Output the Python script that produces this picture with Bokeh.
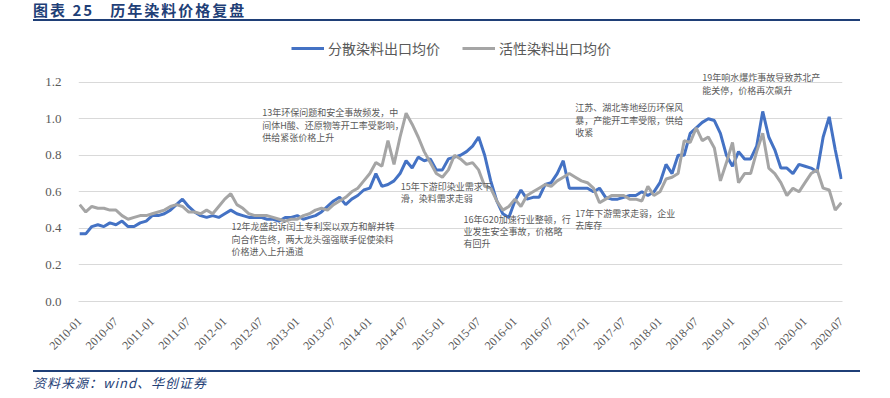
import math
from bokeh.plotting import figure
from bokeh.models import (Range1d, FixedTicker, Legend, LegendItem, Label, Div, ColumnDataSource)
from bokeh.layouts import column
from bokeh.embed import file_html
from bokeh.resources import INLINE

# ---------------- data ----------------
years = list(range(2010, 2021))
months = [f"{y}-{m:02d}" for y in years for m in range(1, 13)][:127]

disperse = [  # 分散染料出口均价
    0.37, 0.37, 0.41, 0.42, 0.41, 0.43, 0.42, 0.44, 0.41, 0.41, 0.43, 0.44,
    0.47, 0.47, 0.48, 0.50, 0.53, 0.56, 0.52, 0.49, 0.47, 0.46, 0.47, 0.46,
    0.48, 0.50, 0.48, 0.47, 0.46, 0.46, 0.46, 0.45, 0.45, 0.44, 0.46, 0.46,
    0.47, 0.45, 0.46, 0.47, 0.49, 0.52, 0.55, 0.57, 0.53, 0.56, 0.58, 0.61,
    0.62, 0.70, 0.63, 0.64, 0.66, 0.70, 0.77, 0.73, 0.79, 0.77, 0.78, 0.72,
    0.72, 0.78, 0.79, 0.80, 0.82, 0.85, 0.90, 0.80, 0.66, 0.55, 0.48, 0.46,
    0.55, 0.61, 0.56, 0.57, 0.57, 0.64, 0.65, 0.70, 0.77, 0.62, 0.62, 0.62,
    0.62, 0.60, 0.62, 0.57, 0.56, 0.56, 0.57, 0.58, 0.58, 0.60, 0.58, 0.60,
    0.65, 0.75, 0.70, 0.80, 0.80, 0.92, 0.95, 0.98, 1.00, 0.99, 0.92, 0.80,
    0.74, 0.82, 0.78, 0.78, 0.85, 1.04, 0.90, 0.83, 0.73, 0.73, 0.70, 0.75,
    0.74, 0.73, 0.71, 0.90, 1.01, 0.83, 0.67,
]

reactive = [  # 活性染料出口均价
    0.53, 0.49, 0.52, 0.51, 0.51, 0.50, 0.50, 0.47, 0.45, 0.46, 0.47, 0.47,
    0.48, 0.49, 0.50, 0.52, 0.53, 0.52, 0.49, 0.49, 0.48, 0.50, 0.48, 0.52,
    0.56, 0.59, 0.53, 0.51, 0.48, 0.47, 0.47, 0.47, 0.46, 0.45, 0.44, 0.45,
    0.45, 0.47, 0.48, 0.50, 0.51, 0.50, 0.53, 0.55, 0.57, 0.60, 0.62, 0.66,
    0.70, 0.76, 0.74, 0.88, 0.75, 0.90, 1.03, 0.97, 0.90, 0.82, 0.76, 0.70,
    0.68, 0.72, 0.80, 0.78, 0.75, 0.76, 0.72, 0.63, 0.62, 0.55, 0.50, 0.52,
    0.56, 0.52, 0.58, 0.60, 0.62, 0.64, 0.63, 0.66, 0.68, 0.70, 0.68, 0.66,
    0.65, 0.62, 0.54, 0.56, 0.58, 0.58, 0.58, 0.56, 0.56, 0.55, 0.63, 0.58,
    0.60, 0.67, 0.68, 0.70, 0.88, 0.87, 0.95, 0.88, 0.90, 0.84, 0.66, 0.76,
    0.87, 0.65, 0.70, 0.70, 0.82, 0.92, 0.73, 0.70, 0.65, 0.58, 0.62, 0.60,
    0.65, 0.70, 0.72, 0.62, 0.61, 0.50, 0.54,
]

tick_labels = [
    "2010-01", "2010-07", "2011-01", "2011-07", "2012-01", "2012-07",
    "2013-01", "2013-07", "2014-01", "2014-07", "2015-01", "2015-07",
    "2016-01", "2016-07", "2017-01", "2017-07", "2018-01", "2018-07",
    "2019-01", "2019-07", "2020-01", "2020-07",
]
y_ticks = [0.0, 0.2, 0.4, 0.6, 0.8, 1.0, 1.2]

title_text = "图表 25   历年染料价格复盘"
source_text = "资料来源：wind、华创证券"
series_names = ["分散染料出口均价", "活性染料出口均价"]

# annotation texts
notes = [
    ["13年环保问题和安全事故频发，中", "间体H酸、还原物等开工率受影响，", "供给紧张价格上升"],
    ["12年龙盛起诉闰土专利案以双方和解并转", "向合作告终，两大龙头强强联手促使染料", "价格进入上升通道"],
    ["15年下游印染业需求下", "滑，染料需求走弱"],
    ["16年G20加速行业整顿，行", "业发生安全事故，价格略", "有回升"],
    ["17年下游需求走弱，企业", "去库存"],
    ["江苏、湖北等地经历环保风", "暴，产能开工率受限，供给", "收紧"],
    ["19年响水爆炸事故导致苏北产", "能关停，价格再次飙升"],
]
# where each annotation sits (x in month index, y in value of first line)
note_pos = [(30.2, 1.033), (25.1, 0.408), (53.1, 0.63), (63.5, 0.451),
            (82.0, 0.484), (82.0, 1.06), (103.0, 1.223)]

BLUE = "#4472C4"
GRAY = "#A5A5A5"
NAVY = "#1F3F77"
TXT = "#595959"
CJK = "Noto Sans CJK SC"
SERIF = "Liberation Serif"

x = list(range(len(months)))
src = ColumnDataSource(dict(x=x, d=disperse, r=reactive))

# frame spans value 0 .. 1.2 plus headroom for the legend / top note
Y_TOP = 1.2 + 50 / 184.0

p = figure(width=874, height=334, output_backend="svg", toolbar_location=None,
           x_range=Range1d(-0.2, 126.2), y_range=Range1d(0, Y_TOP),
           min_border_left=78, min_border_right=32, min_border_top=10,
           min_border_bottom=53, outline_line_color=None, margin=0)

r1 = p.line("x", "d", source=src, line_color=BLUE, line_width=3)
r2 = p.line("x", "r", source=src, line_color=GRAY, line_width=3)

# axes
tick_pos = [months.index(t) for t in tick_labels]
p.xaxis.ticker = FixedTicker(ticks=tick_pos)
p.xaxis.major_label_overrides = {i: t for i, t in zip(tick_pos, tick_labels)}
p.xaxis.major_label_orientation = math.pi / 4
p.xaxis.major_tick_line_color = None
p.xaxis.minor_tick_line_color = None
p.xaxis.axis_line_color = "#D9D9D9"
p.xaxis.major_label_standoff = 12
p.xaxis.major_label_text_font = SERIF
p.xaxis.major_label_text_font_size = "12px"
p.xaxis.major_label_text_color = TXT

p.yaxis.ticker = FixedTicker(ticks=y_ticks)
p.yaxis.major_label_overrides = {v: f"{v:.1f}" for v in y_ticks}
p.yaxis.axis_line_color = None
p.yaxis.major_tick_line_color = None
p.yaxis.minor_tick_line_color = None
p.yaxis.major_label_standoff = 11
p.yaxis.major_label_text_font = SERIF
p.yaxis.major_label_text_font_size = "13px"
p.yaxis.major_label_text_color = TXT

p.xgrid.grid_line_color = None
p.ygrid.ticker = FixedTicker(ticks=y_ticks)
p.ygrid.grid_line_color = "#D9D9D9"
p.ygrid.grid_line_width = 1

# annotations
for (nx, ny), lines in zip(note_pos, notes):
    for k, ln in enumerate(lines):
        p.add_layout(Label(x=nx, y=ny - k * 0.068, text=ln, text_font=CJK,
                           text_font_size="9px", text_color=TXT,
                           text_baseline="middle", text_align="left"))

legend = Legend(items=[LegendItem(label=series_names[0], renderers=[r1]),
                       LegendItem(label=series_names[1], renderers=[r2])],
                orientation="horizontal", location=(213, 243),
                label_text_font=CJK, label_text_font_size="14px",
                label_text_color=TXT, glyph_width=33, glyph_height=20, spacing=22,
                border_line_color=None, background_fill_alpha=0,
                label_standoff=4, padding=0, margin=0)
p.add_layout(legend, "center")

title = Div(text=(
    '<div style="margin-left:33px;width:827px;border-bottom:2px solid %s;'
    'font-family:\'%s\';font-weight:bold;font-size:15px;color:%s;'
    'line-height:19px;white-space:pre;letter-spacing:2px">%s</div>'
) % (NAVY, CJK, NAVY, title_text), width=874, height=22, margin=0)

footer = Div(text=(
    '<div style="margin-left:33px;width:827px;margin-top:14px;border-top:2px solid %s;'
    'padding-top:3px;font-family:\'%s\';font-style:italic;font-size:13px;color:%s;'
    'line-height:15px;white-space:pre;letter-spacing:1px">%s</div>'
) % (NAVY, CJK, NAVY, source_text), width=874, height=38, margin=0)

layout = column(title, p, footer, spacing=0)

open("out.html", "w").write(file_html(layout, INLINE))
